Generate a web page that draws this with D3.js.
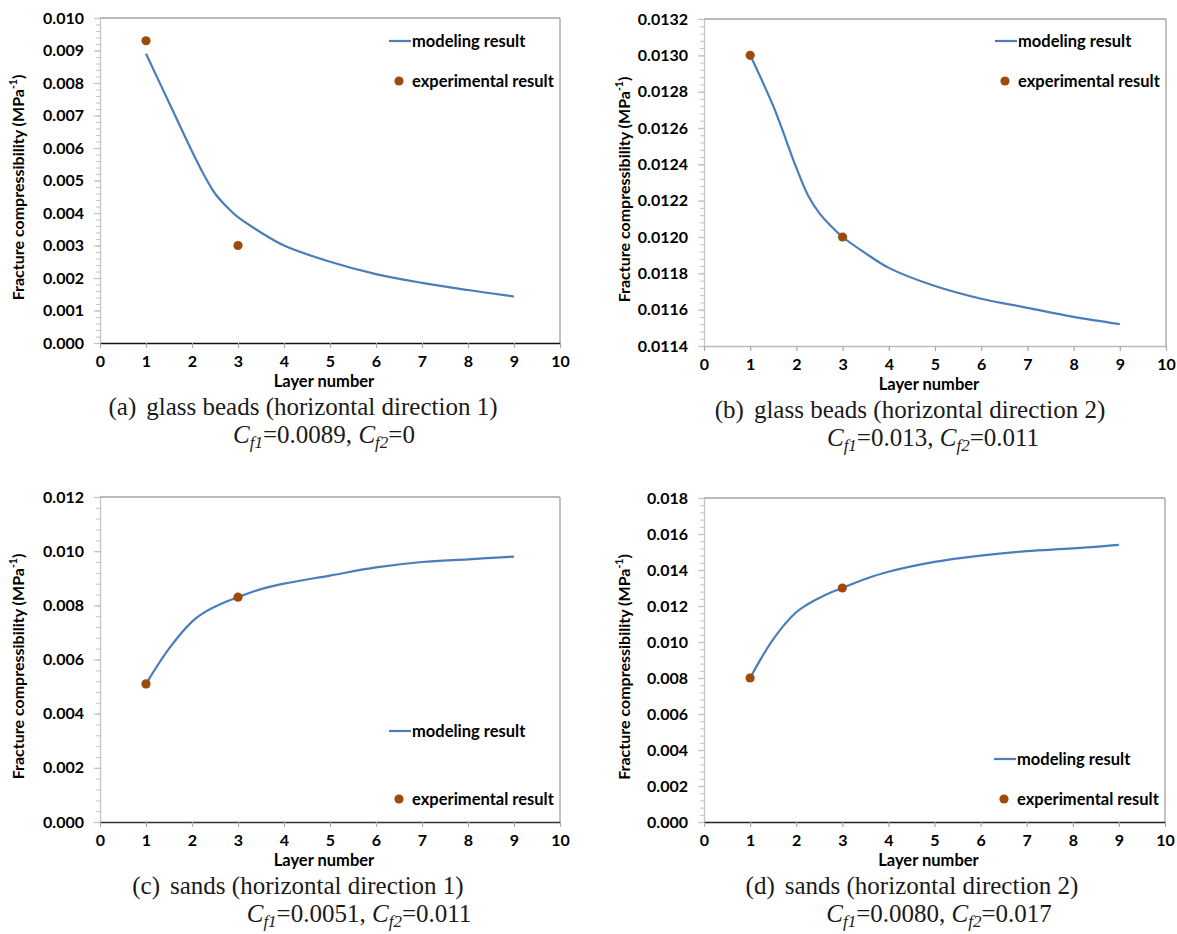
<!DOCTYPE html>
<html>
<head>
<meta charset="utf-8">
<script src="https://d3js.org/d3.v7.min.js"></script>
<style>
  body { margin: 0; background: #fff; }
  .tick text { font-family: Lato, "Open Sans", sans-serif; font-weight: bold; font-size: 16px; fill: #000; }
  .lbl { font-family: Lato, "Open Sans", sans-serif; font-weight: bold; fill: #000; }
  .cap { font-family: "Liberation Serif", "Times New Roman", serif; font-size: 25px; fill: #1a1a1a; }
</style>
</head>
<body>
<script>
// model curve sampled at these layer numbers
var layers = [1, 1.5, 2, 2.25, 2.5, 2.75, 3, 3.5, 4, 5, 6, 7, 8, 9];
var modelA = [0.0089, 0.0074, 0.0059, 0.0052, 0.0046, 0.0042, 0.00387, 0.0034, 0.0030, 0.0025, 0.00212, 0.00185, 0.00163, 0.00143];
var modelB = [0.0130, 0.01272, 0.01238, 0.01223, 0.01213, 0.01206, 0.0120, 0.01191, 0.01183, 0.01173, 0.01166, 0.01161, 0.01156, 0.01152];
var modelC = [0.0051, 0.0064, 0.0074, 0.00772, 0.00795, 0.00814, 0.0083, 0.0086, 0.0088, 0.0091, 0.0094, 0.0096, 0.0097, 0.0098];
var modelD = [0.0080, 0.01015, 0.01165, 0.0121, 0.01245, 0.01275, 0.0130, 0.0135, 0.0139, 0.01445, 0.0148, 0.01505, 0.0152, 0.0154];

// experiments
var expLayers = [1, 3];
var expA = [0.0093, 0.0030];
var expB = [0.0130, 0.0120];
var expC = [0.0051, 0.0083];
var expD = [0.0080, 0.0130];

var xTicks = [0, 1, 2, 3, 4, 5, 6, 7, 8, 9, 10];
var yTicksA = [0, 0.001, 0.002, 0.003, 0.004, 0.005, 0.006, 0.007, 0.008, 0.009, 0.010];
var yTicksB = [0.0114, 0.0116, 0.0118, 0.0120, 0.0122, 0.0124, 0.0126, 0.0128, 0.0130, 0.0132];
var yTicksC = [0, 0.002, 0.004, 0.006, 0.008, 0.010, 0.012];
var yTicksD = [0, 0.002, 0.004, 0.006, 0.008, 0.010, 0.012, 0.014, 0.016, 0.018];

var captions = [
  ["(a)", "glass beads (horizontal direction 1)", "0.0089", "0"],
  ["(b)", "glass beads (horizontal direction 2)", "0.013", "0.011"],
  ["(c)", "sands (horizontal direction 1)", "0.0051", "0.011"],
  ["(d)", "sands (horizontal direction 2)", "0.0080", "0.017"]
];

var w = 1177, h = 934;
var svg = d3.select("body").append("svg").attr("width", w).attr("height", h);

var panels = [
  {left: 100, right: 560, top: 18, bottom: 343, model: modelA, exp: expA, yTicks: yTicksA, fmt: ".3f", nMinor: 50,
   axisCol: "#111", ytx: 24, legLine: 23, legDot: 63, cap1: 303, cap2: 324, cap: captions[0]},
  {left: 704, right: 1166, top: 19, bottom: 346, model: modelB, exp: expB, yTicks: yTicksB, fmt: ".4f", nMinor: 45,
   axisCol: "#bbb", ytx: 630, legLine: 22, legDot: 62, cap1: 910, cap2: 933, cap: captions[1]},
  {left: 100, right: 560, top: 497, bottom: 822, model: modelC, exp: expC, yTicks: yTicksC, fmt: ".3f", nMinor: 30,
   axisCol: "#333", ytx: 24, legLine: 234, legDot: 302, cap1: 298, cap2: 359, cap: captions[2]},
  {left: 704, right: 1165, top: 498, bottom: 822, model: modelD, exp: expD, yTicks: yTicksD, fmt: ".3f", nMinor: 45,
   axisCol: "#222", ytx: 630, legLine: 261, legDot: 301, cap1: 912, cap2: 939, cap: captions[3]}
];

panels.forEach(function(p) {
  var yDom = [p.yTicks[0], p.yTicks[p.yTicks.length - 1]];
  var x = d3.scaleLinear().domain([0, 10]).range([p.left, p.right]);
  var y = d3.scaleLinear().domain(yDom).range([p.bottom, p.top]);
  var g = svg.append("g");

  // frame top / right
  g.append("line").attr("x1", p.left).attr("x2", p.right).attr("y1", p.top).attr("y2", p.top)
    .attr("stroke", "#777").attr("stroke-width", 1.2);
  g.append("line").attr("x1", p.right).attr("x2", p.right).attr("y1", p.top).attr("y2", p.bottom)
    .attr("stroke", "#999").attr("stroke-width", 1.2);

  var minor = d3.range(p.nMinor + 1).map(function(i) { return yDom[0] + i * (yDom[1] - yDom[0]) / p.nMinor; });
  var ym = g.append("g").attr("transform", "translate(" + p.left + ",0)")
    .call(d3.axisLeft(y).tickValues(minor).tickSize(4).tickSizeOuter(0).tickFormat(""));
  var ya = g.append("g").attr("transform", "translate(" + p.left + ",0)")
    .call(d3.axisLeft(y).tickValues(p.yTicks).tickSize(6).tickSizeOuter(0).tickPadding(10).tickFormat(d3.format(p.fmt)));
  ym.selectAll("line,path").attr("stroke", "#c4c4c4");
  ya.selectAll("line,path").attr("stroke", "#c4c4c4").attr("stroke-width", 1.3);

  var xa = g.append("g").attr("transform", "translate(0," + p.bottom + ")")
    .call(d3.axisBottom(x).tickValues(xTicks).tickSize(5).tickSizeOuter(0).tickPadding(8));
  xa.select(".domain").attr("stroke", p.axisCol).attr("stroke-width", 1.4);
  xa.selectAll(".tick line").attr("stroke", "#aaa").attr("stroke-width", 1.2);

  g.append("text").attr("class", "lbl").attr("x", (p.left + p.right) / 2 - 6).attr("y", p.bottom + 44)
    .attr("text-anchor", "middle").attr("font-size", 16.5).text("Layer number");

  var yt = g.append("text").attr("class", "lbl").attr("font-size", 16).attr("text-anchor", "middle")
    .attr("transform", "translate(" + p.ytx + "," + ((p.top + p.bottom) / 2 + 7) + ") rotate(-90)");
  yt.append("tspan").text("Fracture compressibility (MPa");
  yt.append("tspan").attr("font-size", 10.5).attr("dy", -7).text("-1");
  yt.append("tspan").attr("dy", 7).text(")");

  var line = d3.line().x(function(d, i) { return x(layers[i]); }).y(function(d) { return y(d); })
    .curve(d3.curveCatmullRom.alpha(0.5));
  g.append("path").datum(p.model).attr("d", line).attr("fill", "none")
    .attr("stroke", "#4a7ebb").attr("stroke-width", 2.2);

  g.selectAll("circle.e").data(p.exp).enter().append("circle")
    .attr("cx", function(d, i) { return x(expLayers[i]); }).attr("cy", function(d) { return y(d); })
    .attr("r", 4.6).attr("fill", "#9e4a0c");

  // legend
  var lx = p.right - 148;
  g.append("line").attr("x1", lx - 23).attr("x2", lx - 1).attr("y1", p.top + p.legLine).attr("y2", p.top + p.legLine)
    .attr("stroke", "#4a7ebb").attr("stroke-width", 2.2);
  g.append("text").attr("class", "lbl").attr("font-size", 16.5).attr("x", lx).attr("y", p.top + p.legLine + 6).text("modeling result");
  g.append("circle").attr("cx", lx - 13).attr("cy", p.top + p.legDot).attr("r", 4.6).attr("fill", "#9e4a0c");
  g.append("text").attr("class", "lbl").attr("font-size", 16.5).attr("x", lx).attr("y", p.top + p.legDot + 6).text("experimental result");

  // caption
  var c1 = g.append("text").attr("class", "cap").attr("x", p.cap1).attr("y", p.bottom + 72).attr("text-anchor", "middle");
  c1.append("tspan").text(p.cap[0]);
  c1.append("tspan").attr("dx", 10).text(p.cap[1]);
  var c2 = g.append("text").attr("class", "cap").attr("x", p.cap2).attr("y", p.bottom + 100).attr("text-anchor", "middle");
  c2.append("tspan").attr("font-style", "italic").text("C");
  c2.append("tspan").attr("font-style", "italic").attr("font-size", 17).attr("dy", 5).text("f1");
  c2.append("tspan").attr("dy", -5).text("=" + p.cap[2] + ", ");
  c2.append("tspan").attr("font-style", "italic").text("C");
  c2.append("tspan").attr("font-style", "italic").attr("font-size", 17).attr("dy", 5).text("f2");
  c2.append("tspan").attr("dy", -5).text("=" + p.cap[3]);
});
</script>
</body>
</html>
